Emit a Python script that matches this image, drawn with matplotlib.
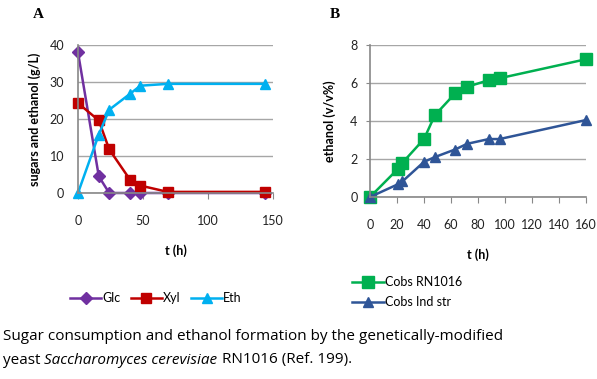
import matplotlib
matplotlib.use("Agg")
import matplotlib.pyplot as plt

# Panel A data
t_a = [0, 16, 24, 40, 48, 69, 144]
glc = [38, 4.5, 0, 0, 0, 0, 0]
xyl = [24.3, 19.6, 11.8, 3.6, 2.0, 0.3, 0.3]
eth = [0, 15.8, 22.5, 26.8, 29.0, 29.5, 29.5]

# Panel B data
t_b = [0, 21, 24, 40, 48, 63, 72, 88, 96, 160]
cobs_rn = [0, 1.5, 1.8, 3.05, 4.3, 5.45, 5.8, 6.15, 6.25, 7.25]
cobs_ind = [0, 0.68, 0.82, 1.85, 2.1, 2.5, 2.8, 3.05, 3.05, 4.05]

W, H = 597, 379
fig = plt.figure(figsize=(W / 100, H / 100), dpi=100)
plt.rcParams['font.family'] = ['Lato', 'DejaVu Sans']

def ax_rect(x0, y0, x1, y1):
    return [x0 / W, 1 - y1 / H, (x1 - x0) / W, (y1 - y0) / H]

grid_c = '#a6a6a6'

def style(ax):
    for s in ['top', 'right']:
        ax.spines[s].set_visible(False)
    for s in ['left', 'bottom']:
        ax.spines[s].set_color('#888888')
        ax.spines[s].set_linewidth(1.2)
    ax.yaxis.grid(True, color=grid_c, linewidth=1.0)
    ax.set_axisbelow(True)
    ax.tick_params(colors='#888888', labelcolor='#222222', labelsize=9, length=4)

# Panel A
axA = fig.add_axes(ax_rect(78, 45, 273, 193))
lg, = axA.plot(t_a, glc, color='#7030A0', marker='D', markersize=6, lw=1.8, label='Glc')
lx, = axA.plot(t_a, xyl, color='#C00000', marker='s', markersize=7, lw=1.8, label='Xyl')
le, = axA.plot(t_a, eth, color='#00B0F0', marker='^', markersize=7.5, lw=1.8, label='Eth')
axA.set_xlim(0, 150)
axA.set_ylim(0, 40)
axA.set_xticks([0, 50, 100, 150])
axA.set_yticks([0, 10, 20, 30, 40])
for a in [lg, lx, le]:
    a.set_clip_on(False)
style(axA)
axA.tick_params(axis='y', length=0, pad=10)
axA.tick_params(axis='x', pad=12)
axA.set_xlabel('t (h)', fontsize=9, fontweight='bold', labelpad=12)
axA.set_ylabel('sugars and ethanol (g/L)', fontsize=9, fontweight='bold', labelpad=6)
axA.legend(handles=[lg, lx, le], loc='center', bbox_to_anchor=(0.40, -0.71),
           ncol=3, frameon=False, fontsize=9, handlelength=2.5, handletextpad=0.1,
           columnspacing=0.8)
fig.text(33 / W, 1 - 14 / H, 'A', fontsize=11, fontweight='bold', family='Liberation Serif',
         va='center')

# Panel B
axB = fig.add_axes(ax_rect(370, 45, 586, 197))
l1, = axB.plot(t_b, cobs_rn, color='#00B050', marker='s', markersize=8.5, lw=1.8, label='Cobs RN1016')
l2, = axB.plot(t_b, cobs_ind, color='#2F5597', marker='^', markersize=7.5, lw=1.8, label='Cobs Ind str')
for a in [l1, l2]:
    a.set_clip_on(False)
axB.set_xlim(0, 160)
axB.set_ylim(0, 8)
axB.set_xticks(range(0, 161, 20))
axB.set_yticks([0, 2, 4, 6, 8])
style(axB)
axB.tick_params(axis='x', pad=12)
axB.tick_params(axis='y', length=3, pad=6)
axB.set_xlabel('t (h)', fontsize=9, fontweight='bold', labelpad=12)
axB.set_ylabel('ethanol (v/v%)', fontsize=9, fontweight='bold', labelpad=10)
axB.legend(handles=[l1, l2], loc='upper left', bbox_to_anchor=(-0.105, -0.49),
           frameon=False, fontsize=9, handlelength=2.5, handletextpad=0.1,
           labelspacing=0.6, borderaxespad=0)
fig.text(330 / W, 1 - 14 / H, 'B', fontsize=11, fontweight='bold', family='Liberation Serif',
         va='center')

# Caption
cap_fs = 11
cap_font = ['Open Sans', 'DejaVu Sans']
fig.text(3 / W, 1 - 336 / H, 'Sugar consumption and ethanol formation by the genetically-modified',
         fontsize=cap_fs, va='center', family=cap_font)
fig.canvas.draw()
r = fig.canvas.get_renderer()
x = 3 / W
for txt, st in [('yeast ', 'normal'), ('Saccharomyces cerevisiae', 'italic'),
                (' RN1016 (Ref. 199).', 'normal')]:
    t = fig.text(x, 1 - 360 / H, txt, fontsize=cap_fs, va='center', style=st, family=cap_font)
    bb = t.get_window_extent(renderer=r)
    x += bb.width / W

fig.savefig('out.png', dpi=100)
